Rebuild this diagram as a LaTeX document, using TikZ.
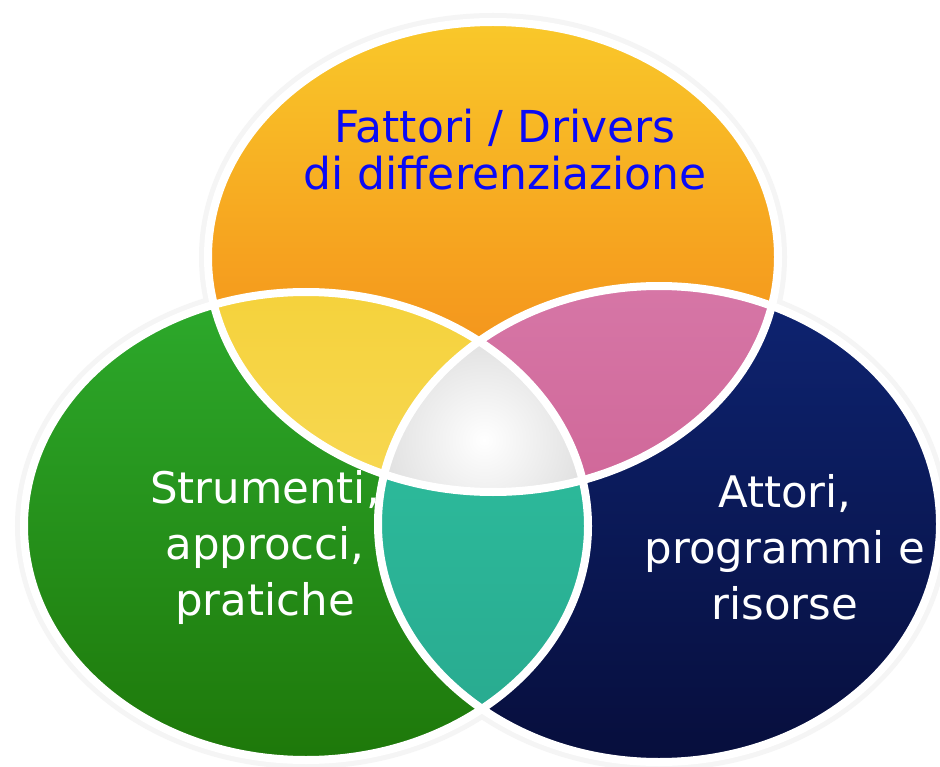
\documentclass[tikz,border=0pt]{standalone}
\usepackage{fontspec}
\setmainfont{DejaVu Sans}
\usetikzlibrary{shapes.geometric}
\definecolor{orTop}{HTML}{F9C82A}
\definecolor{orMid}{HTML}{F6A21F}
\definecolor{orBot}{HTML}{F0821A}
\definecolor{grTop}{HTML}{2DAA2C}
\definecolor{grBot}{HTML}{1E780A}
\definecolor{nvTop}{HTML}{0E2472}
\definecolor{nvBot}{HTML}{070E3C}
\definecolor{yeTop}{HTML}{F5D23C}
\definecolor{yeBot}{HTML}{FADF70}
\definecolor{pkTop}{HTML}{D676A6}
\definecolor{pkBot}{HTML}{C85588}
\definecolor{tlTop}{HTML}{2FC4A2}
\definecolor{tlBot}{HTML}{28A88E}
\definecolor{txtblue}{HTML}{0A0AF5}
\tikzset{
  ringhalo/.style={draw=black!4, line width=18pt},
  ringborder/.style={draw=white, line width=8pt},
  lbl/.style={align=center, inner sep=0pt, font=\fontsize{43.5}{56}\selectfont}
}
\newcommand{\topE}{(493,257) ellipse [x radius=285pt, y radius=235pt]}
\newcommand{\leftE}{(306,526) ellipse [x radius=282pt, y radius=234pt]}
\newcommand{\rightE}{(659,524) ellipse [x radius=281pt, y radius=238pt]}
\begin{document}
\begin{tikzpicture}[x=1pt,y=-1pt]
\useasboundingbox (0,0) rectangle (940,767);
\fill[white] (0,0) rectangle (940,767);
% soft halos
\draw[ringhalo] \topE;
\draw[ringhalo] \leftE;
\draw[ringhalo] \rightE;
% main fills
\shade[top color=orTop, bottom color=orBot, middle color=orMid] \topE;
\shade[top color=grTop, bottom color=grBot] \leftE;
\shade[top color=nvTop, bottom color=nvBot] \rightE;
% intersections
\begin{scope}
  \clip \topE;
  \shade[top color=yeTop, bottom color=yeBot] \leftE;
  \shade[top color=pkTop, bottom color=pkBot] \rightE;
\end{scope}
\begin{scope}
  \clip \leftE;
  \shade[top color=tlTop, bottom color=tlBot] \rightE;
\end{scope}
\begin{scope}
  \clip \topE;
  \clip \leftE;
  \clip \rightE;
  \shade[inner color=white, outer color=black!14] (484,440) circle (120pt);
\end{scope}
% white borders
\draw[ringborder] \topE;
\draw[ringborder] \leftE;
\draw[ringborder] \rightE;
% labels
\node[lbl, text=txtblue, font=\fontsize{44}{47}\selectfont] (fattori) at (505,150) {Fattori / Drivers\\di differenziazione};
\node[lbl, text=white] (strumenti) at (265,547) {Strumenti,\\approcci,\\pratiche};
\node[lbl, text=white] (attori) at (785,547) {Attori,\\programmi e\\risorse};
\end{tikzpicture}
\end{document}
